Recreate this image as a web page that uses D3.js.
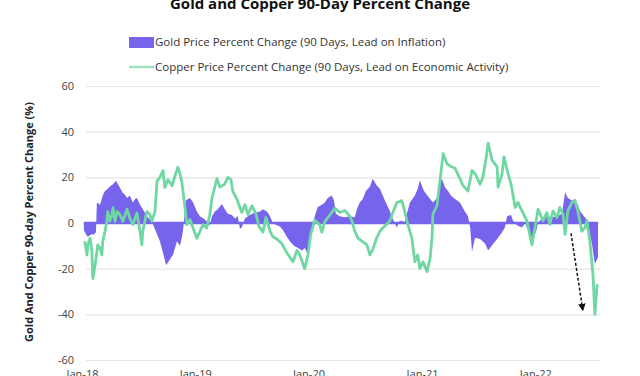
<!DOCTYPE html>
<html lang="en">
<head>
<meta charset="UTF-8">
<script src="https://cdn.jsdelivr.net/npm/d3@7"></script>
<title>Gold and Copper 90-Day Percent Change</title>
<style>
  body { margin: 0; background: #fff; overflow: hidden; font-family: "Open Sans", sans-serif; }
  .grid line { stroke: #e6e6e6; stroke-width: 1.2; }
  .axis text { font-size: 11px; fill: #444; font-family: "Open Sans", sans-serif; }
</style>
</head>
<body>
<svg id="chart" width="640" height="376"></svg>
<script>
// tick values
const yTicks = [-60, -40, -20, 0, 20, 40, 60];

// gold 90-day % change
const goldDates = [
  "2018-01-07","2018-01-14","2018-01-20","2018-01-30","2018-02-08","2018-02-15","2018-02-18","2018-02-28","2018-03-09","2018-03-16",
  "2018-03-25","2018-04-01","2018-04-11","2018-04-20","2018-04-27","2018-05-03","2018-05-13","2018-05-19","2018-05-26","2018-06-04",
  "2018-06-14","2018-06-21","2018-06-27","2018-07-07","2018-07-16","2018-07-29","2018-08-08","2018-08-18","2018-08-31","2018-09-09",
  "2018-09-19","2018-09-29","2018-10-11","2018-10-21","2018-11-03","2018-11-13","2018-11-22","2018-12-02","2018-12-15","2018-12-25",
  "2019-01-06","2019-01-16","2019-02-01","2019-02-11","2019-02-17","2019-02-24","2019-03-05","2019-03-15","2019-03-28","2019-04-06",
  "2019-04-16","2019-04-29","2019-05-09","2019-05-18","2019-05-25","2019-05-31","2019-06-10","2019-06-20","2019-07-03","2019-07-16",
  "2019-07-29","2019-08-07","2019-08-20","2019-08-30","2019-09-08","2019-09-21","2019-10-01","2019-10-10","2019-10-23","2019-11-02",
  "2019-11-15","2019-11-28","2019-12-11","2019-12-20","2019-12-27",
  "2020-01-05","2020-01-15","2020-01-21","2020-01-31","2020-02-13","2020-02-23","2020-03-03","2020-03-16","2020-03-23","2020-03-29",
  "2020-04-11","2020-04-27","2020-05-13","2020-05-29","2020-06-05","2020-06-14","2020-06-24","2020-07-04","2020-07-17","2020-07-26",
  "2020-08-08","2020-08-18","2020-09-03","2020-09-19","2020-09-29","2020-10-12","2020-10-21","2020-11-07","2020-11-13","2020-11-23",
  "2020-12-09","2020-12-18","2020-12-25",
  "2021-01-04","2021-01-10","2021-01-27","2021-02-05","2021-02-18","2021-02-28","2021-03-06","2021-03-16","2021-03-26","2021-04-04",
  "2021-04-17","2021-05-03","2021-05-19","2021-05-29","2021-06-05","2021-06-11","2021-06-21","2021-07-07","2021-07-23","2021-08-02",
  "2021-08-15","2021-08-31","2021-09-16","2021-09-25","2021-10-02","2021-10-15","2021-10-21","2021-11-03","2021-11-19","2021-11-29",
  "2021-12-08","2021-12-21",
  "2022-01-03","2022-01-10","2022-01-22","2022-02-07","2022-02-23","2022-03-12","2022-03-28","2022-04-07","2022-04-16","2022-04-29",
  "2022-05-09","2022-05-18","2022-05-25","2022-06-10","2022-06-20","2022-06-26","2022-07-03","2022-07-12","2022-07-22"
];
const goldValues = [
  -3, -5, -6, -5, -5, -4, 9, 8, 12, 14,
  15, 16, 17, 18.5, 17, 15.5, 13, 12.5, 11, 12,
  9, 10.5, 11, 8, 6, 3, 1.5, -0.7, -5, -8,
  -13, -18.5, -16, -14, -8, -10, -4, 10, 11, 9,
  5, 3, 1.5, 0, -1, 3, 5, 6, 8.3, 6,
  4, 3.5, 2, 3, -2.5, -2, 2, 3, 4, 4.6,
  5, 6, 5, 3, 0, -1, -1.5, -3, -6, -8,
  -10, -11, -12, -11, -13,
  -8, -2, 3, 7, 8, 9, 11, 12, 10, 4,
  3, 2.5, 3, 2.5, 6, 9, 10.5, 14, 16, 19.4,
  16.4, 15, 10, 5.3, 1.6, -2, 1, 0.5, 4, 9,
  12, 15, 18.7,
  15, 13.5, 10.5, 9, 11, 18, 19.4, 15.5, 14, 12,
  10.5, 9, 5, 3, -2, -12.5, -6.5, -7, -9, -12,
  -9.6, -7, -4, -2, 3, 3.5, 1, -1, -2, 0,
  -3, -6.5,
  -4, 0, 2, 3, 2.5, 3, 4, 13.5, 11, 9.8,
  10.5, 8, 5.3, 2.4, 1, -5, -9.5, -18, -15
];

// copper 90-day % change
const copperDates = [
  "2018-01-10","2018-01-17","2018-01-20","2018-01-27","2018-02-02","2018-02-05","2018-02-12","2018-02-18","2018-02-21","2018-02-28",
  "2018-03-06","2018-03-09","2018-03-16","2018-03-22","2018-03-25","2018-04-01","2018-04-07","2018-04-11","2018-04-17","2018-04-24",
  "2018-05-03","2018-05-13","2018-05-26","2018-06-04","2018-06-14","2018-06-27","2018-07-07","2018-07-13","2018-07-16","2018-07-29",
  "2018-08-08","2018-08-14","2018-08-24","2018-08-31","2018-09-09","2018-09-19","2018-09-25","2018-10-05","2018-10-18","2018-10-28",
  "2018-11-06","2018-11-13","2018-11-19","2018-11-29","2018-12-05","2018-12-15","2018-12-25",
  "2019-01-06","2019-01-16","2019-01-26","2019-02-07","2019-02-17","2019-02-24","2019-03-12","2019-03-21","2019-04-06","2019-04-16",
  "2019-04-26","2019-05-02","2019-05-15","2019-05-31","2019-06-10","2019-06-20","2019-07-03","2019-07-16","2019-07-25","2019-08-07",
  "2019-08-17","2019-08-30","2019-09-08","2019-09-21","2019-10-07","2019-10-23","2019-11-12","2019-11-25","2019-12-04","2019-12-20",
  "2019-12-30",
  "2020-01-08","2020-01-21","2020-02-06","2020-02-13","2020-02-23","2020-03-10","2020-03-26","2020-04-11","2020-04-27","2020-05-13",
  "2020-05-20","2020-05-29","2020-06-08","2020-06-21","2020-07-07","2020-07-17","2020-07-26","2020-08-08","2020-08-18","2020-09-03",
  "2020-09-19","2020-09-29","2020-10-12","2020-10-28","2020-11-07","2020-11-16","2020-11-29","2020-12-09","2020-12-18","2020-12-25",
  "2021-01-04","2021-01-17","2021-01-27","2021-02-02","2021-02-05","2021-02-18","2021-02-28","2021-03-10","2021-03-22","2021-04-01",
  "2021-04-17","2021-05-03","2021-05-13","2021-05-29","2021-06-11","2021-06-21","2021-07-07","2021-07-16","2021-07-26","2021-08-02",
  "2021-08-15","2021-08-31","2021-09-03","2021-09-16","2021-09-22","2021-10-05","2021-10-15","2021-10-28","2021-11-06","2021-11-19",
  "2021-12-05","2021-12-21","2021-12-31",
  "2022-01-10","2022-01-26","2022-02-07","2022-02-17","2022-02-27","2022-03-12","2022-03-21","2022-03-31","2022-04-07","2022-04-16",
  "2022-04-29","2022-05-09","2022-05-18","2022-05-31","2022-06-10","2022-06-16","2022-06-26","2022-07-03","2022-07-06","2022-07-12",
  "2022-07-19","2022-07-22"
];
const copperValues = [
  -8, -14, -9.6, -6.7, -12.6, -24.4, -18.5, -12.6, -9.6, -11,
  -14, -8, -3.7, 0.7, 5, 0.7, 3.7, 6.7, 0.7, 5,
  3.7, 0.7, 6, 2.2, -0.7, 4.4, -3.7, -9.6, -3.7, 5,
  3.7, 0.7, 5, 18.5, 20, 23, 15.5, 19, 16.3, 20.7,
  24.4, 21.5, 17.8, 6.7, -0.7, 1.5, -2.2,
  -6.7, -3.7, -0.7, -2.2, 3.7, 11, 19.4, 15.7, 17, 20,
  19, 14, 10.5, 4.6, 8, 3.7, 7.5, 3.9, -1.5, -4,
  2.4, -3.5, -6, -7, -9, -13, -17, -12, -14, -20,
  -14,
  -5, 1.2, -0.7, -4, 0.7, 3.5, 6.5, 4.6, 5.5, 3,
  0.9, -3.6, -6.5, -8, -9.5, -14, -11.7, -6.5, -3.6, -1.3,
  0.9, 4.6, 9, 9.8, 4.6, -0.6, -6.5, -17, -14, -19.9,
  -17, -21.3, -15.4, -6.5, 3.9, 7.6, 18.7, 30.4, 26, 25,
  24, 19.4, 16.4, 14, 23, 21.6, 17, 20, 28, 35,
  27.4, 24.6, 15.7, 21.6, 29, 21.6, 17, 6.8, 9, 5.3,
  0.9, -9.5, -2,
  6, 0.9, 4.6, -0.6, 5.3, 2.4, 6.8, 3.9, -5, 5.3,
  9, 9.8, 5.3, -3.6, -2, 0.9, -8, -18.4, -22.8, -40,
  -27.3, -27
];

// dashed arrow annotation (start, end)
const arrowDates = ["2022-04-26", "2022-06-03"];
const arrowValues = [-4.5, -38];

const purple = "#7764ec";
const green = "#6fd7a2";

const parse = d3.timeParse("%Y-%m-%d");
const gold = goldDates.map((d, i) => ({ date: parse(d), value: goldValues[i] }));
const copper = copperDates.map((d, i) => ({ date: parse(d), value: copperValues[i] }));

const svg = d3.select("#chart");
const plotLeft = 86, plotRight = 600;

const x = d3.scaleTime()
  .domain([parse("2018-01-01"), parse("2022-01-01")])
  .range([82, 535.3]);
const y = d3.scaleLinear().domain([-60, 60]).range([360, 86]);

// title
svg.append("text")
  .attr("x", 320).attr("y", 9)
  .attr("text-anchor", "middle")
  .style("font-size", "15px").style("font-weight", "700").style("fill", "#111")
  .text("Gold and Copper 90-Day Percent Change");

// legend
const legend = svg.append("g").attr("transform", "translate(129,0)");
legend.append("rect").attr("x", 0).attr("y", 37).attr("width", 25).attr("height", 11).attr("fill", purple);
legend.append("text").attr("x", 26).attr("y", 46)
  .style("font-size", "11.5px").style("fill", "#333")
  .text("Gold Price Percent Change (90 Days, Lead on Inflation)");
legend.append("line").attr("x1", 0).attr("x2", 25).attr("y1", 67).attr("y2", 67)
  .attr("stroke", "#9fe2c2").attr("stroke-width", 2.5);
legend.append("text").attr("x", 26).attr("y", 71)
  .style("font-size", "11.5px").style("fill", "#333")
  .text("Copper Price Percent Change (90 Days, Lead on Economic Activity)");

// y axis with gridlines
svg.append("g")
  .attr("class", "axis grid")
  .attr("transform", `translate(${plotLeft},0)`)
  .call(d3.axisLeft(y).tickValues(yTicks).tickFormat(d => String(d))
    .tickSizeInner(-(plotRight - plotLeft)).tickSizeOuter(0).tickPadding(12))
  .call(g => g.select(".domain").remove());

// x axis labels (cut by the bottom edge, as in the source image)
svg.append("g")
  .attr("class", "axis")
  .attr("transform", "translate(0,370)")
  .call(d3.axisBottom(x).ticks(d3.timeYear.every(1)).tickFormat(d3.timeFormat("%b-%y")).tickSize(0).tickPadding(0))
  .call(g => g.select(".domain").remove());

// y axis title
svg.append("text")
  .attr("transform", "translate(33,222) rotate(-90)")
  .attr("text-anchor", "middle")
  .style("font-size", "11px").style("font-weight", "700").style("fill", "#222")
  .text("Gold And Copper 90-day Percent Change (%)");

// gold area
svg.append("path")
  .datum(gold)
  .attr("fill", purple)
  .attr("d", d3.area().x(d => x(d.date)).y0(y(0)).y1(d => y(d.value)));

// zero baseline of gold series
svg.append("line")
  .attr("x1", x(gold[0].date)).attr("x2", x(gold[gold.length - 1].date))
  .attr("y1", y(0)).attr("y2", y(0))
  .attr("stroke", purple).attr("stroke-width", 2.5);

// copper line
svg.append("path")
  .datum(copper)
  .attr("fill", "none")
  .attr("stroke", green)
  .attr("stroke-width", 2.8)
  .attr("stroke-linejoin", "round")
  .attr("d", d3.line().x(d => x(d.date)).y(d => y(d.value)));

// arrow annotation
svg.append("defs").append("marker")
  .attr("id", "arrow").attr("viewBox", "0 0 10 10")
  .attr("refX", 8).attr("refY", 5)
  .attr("markerWidth", 5).attr("markerHeight", 5)
  .attr("orient", "auto")
  .append("path").attr("d", "M0,0L10,5L0,10z").attr("fill", "#111");

svg.append("line")
  .attr("x1", x(parse(arrowDates[0]))).attr("y1", y(arrowValues[0]))
  .attr("x2", x(parse(arrowDates[1]))).attr("y2", y(arrowValues[1]))
  .attr("stroke", "#111").attr("stroke-width", 1.5)
  .attr("stroke-dasharray", "3,2")
  .attr("marker-end", "url(#arrow)");
</script>
</body>
</html>
